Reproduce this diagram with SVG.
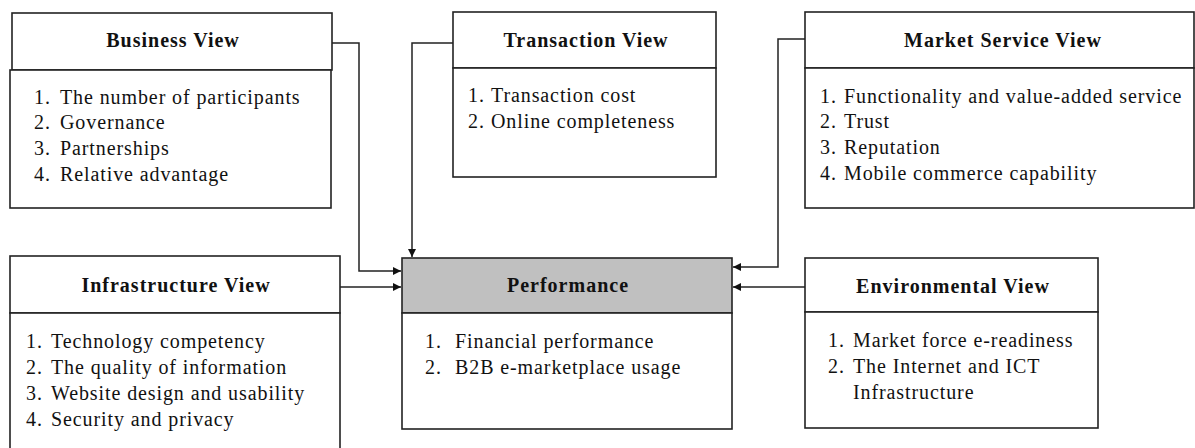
<svg xmlns="http://www.w3.org/2000/svg" width="1195" height="448" viewBox="0 0 1195 448">
<style>
.box{fill:#fff;stroke:#222;stroke-width:1.6}
.gray{fill:#c0c0c0;stroke:#222;stroke-width:1.6}
text{font-family:"Liberation Serif","Times New Roman","DejaVu Serif",serif;fill:#111}
.h{font-weight:bold;font-size:20px;letter-spacing:1px;text-anchor:middle}
.t{font-size:20px;letter-spacing:0.9px}
.c{fill:none;stroke:#222;stroke-width:1.5}
</style>
<defs>
<marker id="arr" viewBox="0 0 10 10" refX="10" refY="5" markerWidth="10" markerHeight="8" markerUnits="userSpaceOnUse" orient="auto">
<path d="M0,0 L10,5 L0,10 z" fill="#111"/>
</marker>
</defs>
<g id="connectors">
<polyline class="c" points="332,43 359,43 359,271 401,271" marker-end="url(#arr)"/>
<polyline class="c" points="340,287 401,287" marker-end="url(#arr)"/>
<polyline class="c" points="453,43 412,43 412,257" marker-end="url(#arr)"/>
<polyline class="c" points="805,39 778,39 778,267 733,267" marker-end="url(#arr)"/>
<polyline class="c" points="805,287 733,287" marker-end="url(#arr)"/>
</g>
<g id="business">
<rect class="box" x="12" y="13" width="320" height="57"/>
<rect class="box" x="10" y="70" width="321" height="138"/>
<text class="h" x="173" y="47">Business View</text>
<text class="t" x="34" y="104">1.</text><text class="t" x="60" y="104">The number of participants</text>
<text class="t" x="34" y="129">2.</text><text class="t" x="60" y="129">Governance</text>
<text class="t" x="34" y="155">3.</text><text class="t" x="60" y="155">Partnerships</text>
<text class="t" x="34" y="181">4.</text><text class="t" x="60" y="181">Relative advantage</text>
</g>
<g id="transaction">
<rect class="box" x="453" y="12" width="263" height="56"/>
<rect class="box" x="453" y="68" width="263" height="109"/>
<text class="h" x="586" y="47">Transaction View</text>
<text class="t" x="468" y="102">1.</text><text class="t" x="491" y="102">Transaction cost</text>
<text class="t" x="468" y="128">2.</text><text class="t" x="491" y="128">Online completeness</text>
</g>
<g id="market">
<rect class="box" x="805" y="12" width="389" height="56"/>
<rect class="box" x="805" y="68" width="389" height="140"/>
<text class="h" x="1003" y="47">Market Service View</text>
<text class="t" x="820" y="103">1.</text><text class="t" x="844" y="103">Functionality and value-added service</text>
<text class="t" x="820" y="128">2.</text><text class="t" x="844" y="128">Trust</text>
<text class="t" x="820" y="154">3.</text><text class="t" x="844" y="154">Reputation</text>
<text class="t" x="820" y="180">4.</text><text class="t" x="844" y="180">Mobile commerce capability</text>
</g>
<g id="infrastructure">
<rect class="box" x="10" y="256" width="330" height="57"/>
<rect class="box" x="10" y="313" width="330" height="140"/>
<text class="h" x="176" y="292">Infrastructure View</text>
<text class="t" x="26" y="348">1.</text><text class="t" x="51" y="348">Technology competency</text>
<text class="t" x="26" y="374">2.</text><text class="t" x="51" y="374">The quality of information</text>
<text class="t" x="26" y="400">3.</text><text class="t" x="51" y="400">Website design and usability</text>
<text class="t" x="26" y="426">4.</text><text class="t" x="51" y="426">Security and privacy</text>
</g>
<g id="performance">
<rect class="gray" x="402" y="258" width="330" height="55"/>
<rect class="box" x="402" y="313" width="330" height="116"/>
<text class="h" x="568" y="292">Performance</text>
<text class="t" x="425" y="348">1.</text><text class="t" x="455" y="348">Financial performance</text>
<text class="t" x="425" y="374">2.</text><text class="t" x="455" y="374">B2B e-marketplace usage</text>
</g>
<g id="environmental">
<rect class="box" x="805" y="258" width="293" height="54"/>
<rect class="box" x="805" y="312" width="293" height="116"/>
<text class="h" x="953" y="293">Environmental View</text>
<text class="t" x="828" y="347">1.</text><text class="t" x="853" y="347">Market force e-readiness</text>
<text class="t" x="828" y="373">2.</text><text class="t" x="853" y="373">The Internet and ICT</text>
<text class="t" x="853" y="399">Infrastructure</text>
</g>
</svg>
